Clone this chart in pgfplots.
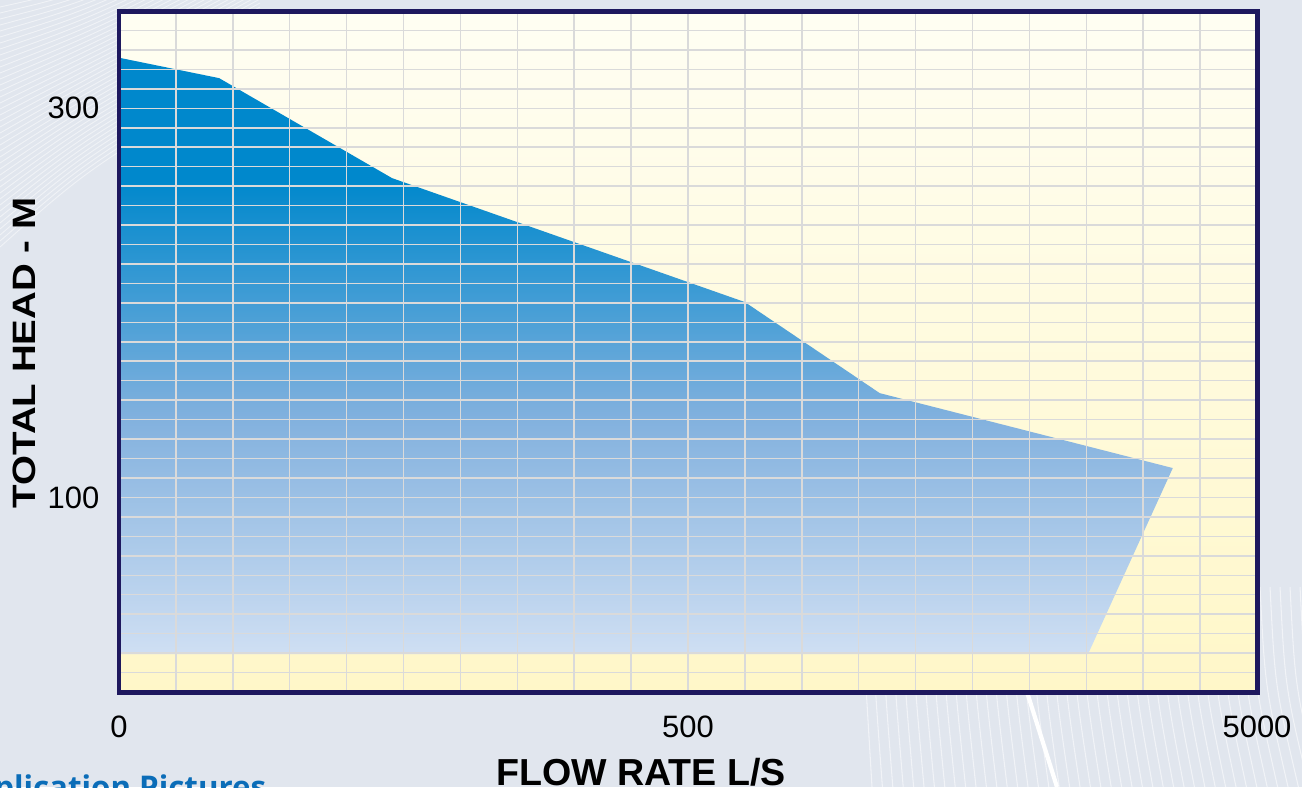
\documentclass[border=0pt]{standalone}
\usepackage{pgfplots}
\pgfplotsset{compat=1.18}
\usepackage{fontspec}
\setmainfont{Liberation Sans}
\newfontfamily\opensans{Open Sans}
\definecolor{bgc}{HTML}{E1E6EE}
\definecolor{framec}{HTML}{1E185E}
\definecolor{gridc}{HTML}{DADADA}
\definecolor{topc}{HTML}{0088CC}
\definecolor{midc}{HTML}{82B1DE}
\definecolor{botc}{HTML}{CFDFF3}
\definecolor{creamtop}{HTML}{FFFEF3}
\definecolor{creambot}{HTML}{FFF7C8}
\definecolor{appblue}{HTML}{0B6DB8}
\pgfdeclareverticalshading{fillgrad}{100bp}{color(0bp)=(botc); color(25bp)=(botc); color(44.8bp)=(midc); color(64.7bp)=(topc); color(75bp)=(topc); color(100bp)=(topc)}
\begin{document}
\begin{tikzpicture}[x=1cm,y=1cm]
\fill[bgc] (0,0) rectangle (13.02,7.87);
% background decoration
\foreach \i in {0,...,45}{
  \draw[white, opacity=0.55, line width=0.3pt] ({8.6+\i*0.1},2.0) .. controls ({8.6+\i*0.1+0.05},1.0) .. ({8.6+\i*0.1+0.12+\i*0.004},0);
}
\draw[white, line width=1.2pt] (10.27,0.95) -- (10.57,0);
\foreach \i in {0,...,40}{
  \draw[white, opacity=0.5, line width=0.25pt] (0,{5.4+\i*0.06}) .. controls (0.9,{6.2+\i*0.045}) .. (2.6,{7.2+\i*0.04});
}
\begin{axis}[
  at={(1.19cm,0.95cm)}, anchor=south west,
  scale only axis, width=11.38cm, height=6.81cm,
  xmin=0, xmax=20, ymin=0, ymax=350,
  axis background/.style={top color=creamtop, bottom color=creambot},
  axis line style={framec, line width=1.42pt},
  axis on top,
  xtick={0,10,20}, xticklabels={0,500,5000},
  minor xtick={1,...,19},
  ytick={100,300}, yticklabels={100,300},
  minor ytick={10,20,...,340},
  grid=both,
  major grid style={gridc, line width=0.43pt},
  minor grid style={gridc, line width=0.43pt},
  major tick length=0pt, minor tick length=0pt,
  tick style={draw=none},
  ticklabel style={font=\fontsize{8.8}{10}\selectfont, text=black, inner sep=0pt},
  xticklabel style={anchor=north, yshift=-0.23cm},
  yticklabel style={anchor=east, xshift=-0.19cm},
  xlabel={FLOW RATE L/S}, ylabel={TOTAL HEAD - M},
  label style={text=black, inner sep=0pt},
  xlabel style={font=\fontsize{10.7}{12}\selectfont\bfseries, at={(axis description cs:0.4587,-0.1366)}, anchor=base},
  ylabel style={font=\fontsize{9.2}{11}\selectfont\bfseries, at={(axis description cs:-0.0738,0.4978)}, anchor=base, xscale=1.19},
]
\addplot[draw=none, shade, shading=fillgrad] coordinates {
  (0,326) (1.76,315.5) (4.80,264.1) (11.00,200.4) (13.37,153.6)
  (18.52,115.1) (17.03,19.5) (0,19.5)
} -- cycle;
\end{axis}
\node[anchor=base east, inner sep=0pt, text=appblue, font=\opensans\bfseries\fontsize{8.9}{10}\selectfont] at (2.67,-0.11) {Application Pictures};
\pgfresetboundingbox
\path[use as bounding box] (0,0) rectangle (13.02,7.87);
\end{tikzpicture}
\end{document}
